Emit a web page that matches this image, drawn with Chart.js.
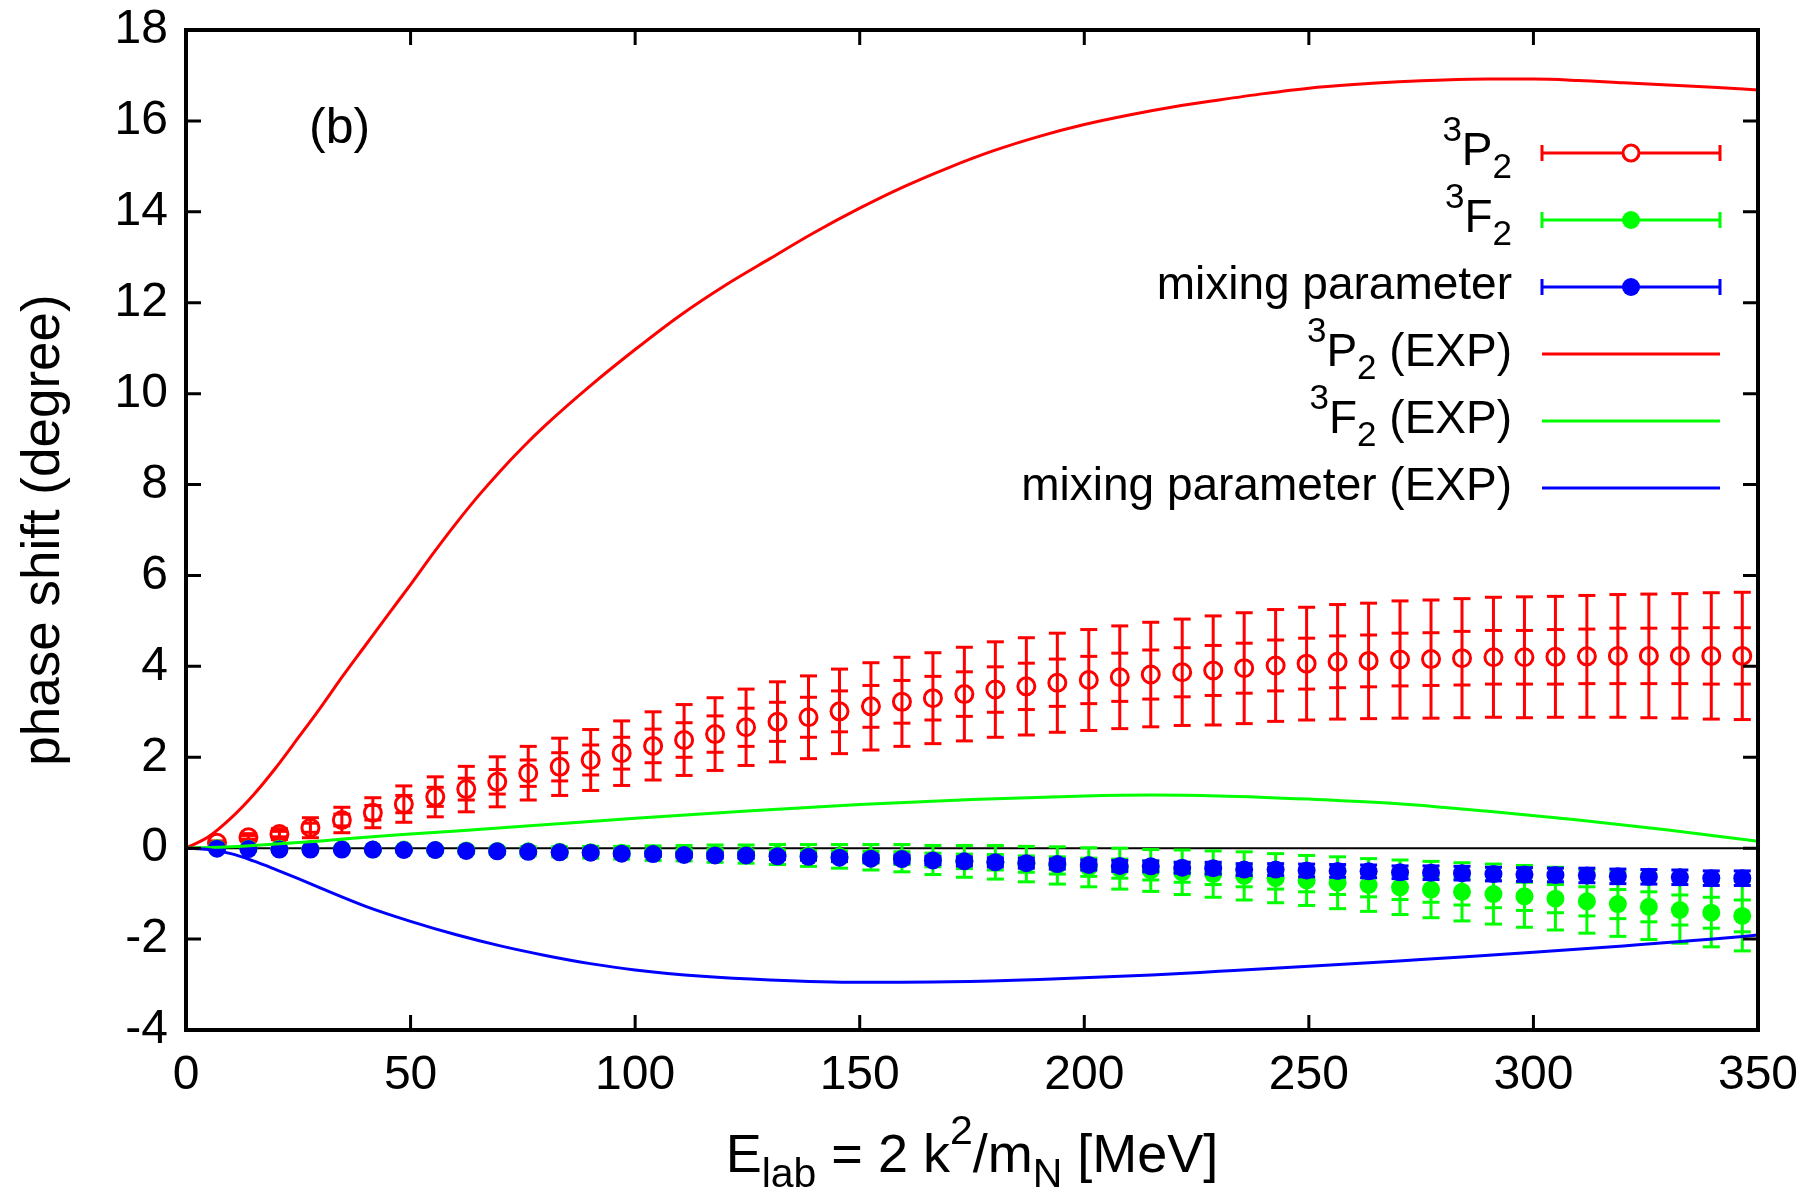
<!DOCTYPE html>
<html>
<head>
<meta charset="utf-8">
<title>phase shift (b)</title>
<script src="https://cdn.jsdelivr.net/npm/chart.js@4.4.1/dist/chart.umd.min.js"></script>
<style>
  html, body { margin: 0; padding: 0; background: #fff; }
  #wrap { width: 1818px; height: 1189px; }
</style>
</head>
<body>
<div id="wrap"><canvas id="phaseChart" width="1818" height="1189"></canvas></div>
<script>
// lattice points, E_lab in MeV
const energy = [
  6.9, 13.9, 20.8, 27.7, 34.7, 41.6, 48.5, 55.5, 62.4, 69.3,
  76.2, 83.2, 90.1, 97.0, 104.0, 110.9, 117.8, 124.7, 131.7, 138.6,
  145.5, 152.5, 159.4, 166.3, 173.3, 180.2, 187.1, 194.0, 201.0, 207.9,
  214.8, 221.8, 228.7, 235.6, 242.6, 249.5, 256.4, 263.3, 270.3, 277.2,
  284.1, 291.1, 298.0, 304.9, 311.9, 318.8, 325.7, 332.6, 339.6, 346.5
];

// 3P2
const p2 = [
  0.12, 0.24, 0.31, 0.45, 0.62, 0.78, 0.97, 1.13, 1.30, 1.46,
  1.65, 1.79, 1.94, 2.09, 2.25, 2.38, 2.51, 2.66, 2.78, 2.88,
  3.01, 3.12, 3.22, 3.30, 3.39, 3.49, 3.56, 3.64, 3.70, 3.76,
  3.82, 3.87, 3.91, 3.96, 4.02, 4.06, 4.10, 4.12, 4.15, 4.16,
  4.18, 4.20, 4.20, 4.21, 4.22, 4.23, 4.23, 4.23, 4.23, 4.23
];
const p2Err = [
  0.04, 0.08, 0.12, 0.22, 0.28, 0.33, 0.40, 0.44, 0.50, 0.55,
  0.59, 0.63, 0.67, 0.71, 0.75, 0.78, 0.80, 0.84, 0.88, 0.91,
  0.93, 0.96, 0.98, 1.00, 1.03, 1.05, 1.07, 1.09, 1.11, 1.13,
  1.15, 1.17, 1.20, 1.22, 1.23, 1.24, 1.26, 1.27, 1.29, 1.30,
  1.31, 1.32, 1.33, 1.33, 1.34, 1.35, 1.36, 1.37, 1.39, 1.40
];
const p2ErrIn = [
  0.02, 0.04, 0.06, 0.10, 0.13, 0.16, 0.19, 0.21, 0.24, 0.27,
  0.29, 0.31, 0.33, 0.35, 0.37, 0.38, 0.40, 0.42, 0.43, 0.44,
  0.45, 0.46, 0.47, 0.48, 0.49, 0.50, 0.51, 0.52, 0.52, 0.53,
  0.54, 0.54, 0.55, 0.55, 0.56, 0.56, 0.57, 0.57, 0.58, 0.58,
  0.59, 0.59, 0.59, 0.60, 0.60, 0.61, 0.61, 0.61, 0.62, 0.62
];

// 3F2
const f2 = [
  0.00, -0.01, -0.01, -0.02, -0.02, -0.03, -0.03, -0.04, -0.05, -0.06,
  -0.07, -0.08, -0.09, -0.10, -0.11, -0.11, -0.12, -0.13, -0.14, -0.16,
  -0.18, -0.20, -0.22, -0.26, -0.29, -0.31, -0.35, -0.38, -0.42, -0.45,
  -0.49, -0.53, -0.57, -0.61, -0.66, -0.71, -0.76, -0.81, -0.86, -0.91,
  -0.96, -1.01, -1.06, -1.11, -1.17, -1.23, -1.29, -1.36, -1.42, -1.49
];
const f2Err = [
  0.00, 0.01, 0.01, 0.02, 0.03, 0.04, 0.05, 0.06, 0.07, 0.08,
  0.10, 0.11, 0.13, 0.14, 0.16, 0.17, 0.19, 0.20, 0.22, 0.24,
  0.26, 0.28, 0.30, 0.32, 0.35, 0.37, 0.39, 0.41, 0.43, 0.45,
  0.46, 0.49, 0.51, 0.53, 0.54, 0.55, 0.57, 0.58, 0.60, 0.62,
  0.64, 0.66, 0.68, 0.69, 0.70, 0.71, 0.72, 0.73, 0.75, 0.77
];
const f2ErrIn = [
  0.00, 0.00, 0.01, 0.01, 0.01, 0.02, 0.02, 0.03, 0.03, 0.04,
  0.05, 0.05, 0.06, 0.06, 0.07, 0.08, 0.09, 0.09, 0.10, 0.11,
  0.12, 0.13, 0.14, 0.15, 0.16, 0.17, 0.18, 0.19, 0.20, 0.21,
  0.21, 0.22, 0.23, 0.24, 0.24, 0.25, 0.26, 0.26, 0.27, 0.28,
  0.29, 0.30, 0.31, 0.31, 0.32, 0.32, 0.33, 0.33, 0.34, 0.35
];

// mixing parameter
const mix = [
  -0.01, -0.02, -0.03, -0.03, -0.03, -0.03, -0.04, -0.04, -0.06, -0.07,
  -0.08, -0.09, -0.10, -0.12, -0.13, -0.15, -0.16, -0.16, -0.18, -0.19,
  -0.21, -0.23, -0.24, -0.27, -0.29, -0.31, -0.33, -0.35, -0.37, -0.39,
  -0.40, -0.43, -0.44, -0.47, -0.47, -0.49, -0.50, -0.51, -0.53, -0.54,
  -0.55, -0.57, -0.58, -0.59, -0.60, -0.62, -0.63, -0.64, -0.66, -0.66
];
const mixErr = [
  0.01, 0.01, 0.01, 0.01, 0.01, 0.01, 0.01, 0.01, 0.02, 0.02,
  0.03, 0.03, 0.04, 0.04, 0.05, 0.05, 0.06, 0.06, 0.07, 0.07,
  0.08, 0.08, 0.09, 0.09, 0.10, 0.10, 0.11, 0.11, 0.11, 0.12,
  0.12, 0.12, 0.13, 0.13, 0.13, 0.14, 0.14, 0.14, 0.14, 0.15,
  0.15, 0.15, 0.15, 0.15, 0.16, 0.16, 0.16, 0.16, 0.16, 0.16
];

// experimental (PWA) curves
const p2ExpE = [0, 5, 10, 15, 20, 25, 30, 35, 40, 45, 50, 55, 60, 65, 70, 75, 80, 90, 100, 110,
  120, 130, 140, 150, 160, 170, 180, 190, 200, 210, 220, 230, 240, 250, 260, 270, 280, 290,
  300, 310, 320, 330, 340, 350];
const p2Exp = [0, 0.25, 0.66, 1.17, 1.77, 2.43, 3.1, 3.8, 4.47, 5.14, 5.8, 6.48, 7.13, 7.74, 8.3, 8.82, 9.3, 10.17, 10.97, 11.72,
  12.38, 12.97, 13.55, 14.08, 14.56, 14.98, 15.35, 15.66, 15.92, 16.13, 16.31, 16.46, 16.6, 16.72, 16.8, 16.86, 16.9, 16.92,
  16.92, 16.89, 16.84, 16.79, 16.74, 16.68];

const f2ExpE = [0, 10, 20, 30, 40, 50, 75, 100, 125, 150, 175, 200, 215, 230, 250, 270, 290, 310, 330, 350];
const f2Exp = [0, 0.03, 0.09, 0.16, 0.24, 0.31, 0.48, 0.66, 0.82, 0.96, 1.07, 1.15, 1.17, 1.15, 1.08, 0.98, 0.81, 0.62, 0.4, 0.15];

const mixExpE = [0, 5, 10, 15, 20, 25, 30, 40, 50, 60, 70, 80, 90, 100, 115, 130, 150, 170, 190, 215,
  230, 250, 270, 285, 300, 320, 340, 350];
const mixExp = [0, -0.03, -0.12, -0.28, -0.47, -0.67, -0.88, -1.28, -1.61, -1.9, -2.15, -2.36, -2.54, -2.68, -2.82, -2.9, -2.95, -2.94, -2.89, -2.79,
  -2.71, -2.6, -2.48, -2.39, -2.29, -2.15, -2.0, -1.91];

const xTicks = [0, 50, 100, 150, 200, 250, 300, 350];
const yTicks = [-4, -2, 0, 2, 4, 6, 8, 10, 12, 14, 16, 18];

const RED = '#ff0000', GREEN = '#00ff00', BLUE = '#0000ff';
const FONT = "'Liberation Sans', Arial, Helvetica, sans-serif";

// legend rows: text pieces ('n' normal, 'sup', 'sub')
const legendRows = [
  { parts: [['3', 'sup'], ['P', 'n'], ['2', 'sub']], color: RED, bar: true, open: true },
  { parts: [['3', 'sup'], ['F', 'n'], ['2', 'sub']], color: GREEN, bar: true },
  { parts: [['mixing parameter', 'n']], color: BLUE, bar: true },
  { parts: [['3', 'sup'], ['P', 'n'], ['2', 'sub'], [' (EXP)', 'n']], color: RED },
  { parts: [['3', 'sup'], ['F', 'n'], ['2', 'sub'], [' (EXP)', 'n']], color: GREEN },
  { parts: [['mixing parameter (EXP)', 'n']], color: BLUE }
];

function toPoints(xs, ys) {
  return xs.map((x, i) => ({ x: x, y: ys[i] }));
}

function drawRich(ctx, parts, x, baseline, size, align) {
  const small = Math.round(size * 0.76);
  let total = 0;
  parts.forEach(p => {
    ctx.font = (p[1] === 'n' ? size : small) + 'px ' + FONT;
    total += ctx.measureText(p[0]).width;
  });
  let cx = align === 'right' ? x - total : (align === 'center' ? x - total / 2 : x);
  ctx.textAlign = 'left';
  ctx.textBaseline = 'alphabetic';
  parts.forEach(p => {
    let dy = 0;
    if (p[1] === 'sup') dy = -size * 0.52;
    if (p[1] === 'sub') dy = size * 0.28;
    ctx.font = (p[1] === 'n' ? size : small) + 'px ' + FONT;
    ctx.fillText(p[0], cx, baseline + dy);
    cx += ctx.measureText(p[0]).width;
  });
}

function errorBar(ctx, px, yTop, yBot, half, caps) {
  ctx.beginPath();
  ctx.moveTo(px, yTop);
  ctx.lineTo(px, yBot);
  ctx.stroke();
  caps.forEach(cy => {
    ctx.beginPath();
    ctx.moveTo(px - half, cy);
    ctx.lineTo(px + half, cy);
    ctx.stroke();
  });
}

const errorBarPlugin = {
  id: 'errorBars',
  beforeDatasetDraw(chart, args) {
    const ds = chart.data.datasets[args.index];
    if (!ds.errOuter) return;
    const { ctx, chartArea } = chart;
    const x = chart.scales.x, y = chart.scales.y;
    ctx.save();
    ctx.beginPath();
    ctx.rect(chartArea.left, chartArea.top, chartArea.width, chartArea.height);
    ctx.clip();
    ctx.strokeStyle = ds.borderColor;
    ctx.lineWidth = 3;
    ds.data.forEach((p, i) => {
      const px = x.getPixelForValue(p.x);
      const top = y.getPixelForValue(p.y + ds.errOuter[i]);
      const bot = y.getPixelForValue(p.y - ds.errOuter[i]);
      const caps = [top, bot];
      if (ds.errInner) {
        caps.push(y.getPixelForValue(p.y + ds.errInner[i]));
        caps.push(y.getPixelForValue(p.y - ds.errInner[i]));
      }
      errorBar(ctx, px, top, bot, 8.5, caps);
    });
    ctx.restore();
  }
};

const framePlugin = {
  id: 'frame',
  beforeDatasetsDraw(chart) {
    const { ctx, chartArea } = chart;
    const y0 = chart.scales.y.getPixelForValue(0);
    ctx.save();
    ctx.strokeStyle = '#000';
    ctx.lineWidth = 2;
    ctx.beginPath();
    ctx.moveTo(chartArea.left, y0);
    ctx.lineTo(chartArea.right, y0);
    ctx.stroke();
    ctx.restore();
  },
  afterDatasetsDraw(chart) {
    const { ctx, chartArea: a } = chart;
    const x = chart.scales.x, y = chart.scales.y;
    ctx.save();
    ctx.strokeStyle = '#000';
    ctx.lineWidth = 3;
    xTicks.forEach(v => {
      const px = x.getPixelForValue(v);
      ctx.beginPath();
      ctx.moveTo(px, a.bottom); ctx.lineTo(px, a.bottom - 15);
      ctx.moveTo(px, a.top); ctx.lineTo(px, a.top + 15);
      ctx.stroke();
    });
    yTicks.forEach(v => {
      const py = y.getPixelForValue(v);
      ctx.beginPath();
      ctx.moveTo(a.left, py); ctx.lineTo(a.left + 15, py);
      ctx.moveTo(a.right, py); ctx.lineTo(a.right - 15, py);
      ctx.stroke();
    });
    ctx.lineWidth = 4;
    ctx.strokeRect(a.left, a.top, a.right - a.left, a.bottom - a.top);
    ctx.restore();
  },
  afterDraw(chart) {
    const { ctx, chartArea: a } = chart;
    ctx.save();
    ctx.fillStyle = '#000';

    // panel tag
    ctx.font = '50px ' + FONT;
    ctx.textAlign = 'left';
    ctx.textBaseline = 'alphabetic';
    ctx.fillText('(b)', 309, 143);

    // x axis title
    drawRich(ctx, [['E', 'n'], ['lab', 'sub'], [' = 2 k', 'n'], ['2', 'sup'], ['/m', 'n'], ['N', 'sub'], [' [MeV]', 'n']],
      (a.left + a.right) / 2, 1172, 54, 'center');

    // key
    const textRight = 1512, x1 = 1542, x2 = 1720, xm = 1631;
    legendRows.forEach((row, i) => {
      const ly = 153 + i * 67;
      ctx.fillStyle = '#000';
      drawRich(ctx, row.parts, textRight, ly + 12, 46, 'right');
      ctx.strokeStyle = row.color;
      ctx.lineWidth = 3;
      ctx.beginPath();
      ctx.moveTo(x1, ly); ctx.lineTo(x2, ly);
      ctx.stroke();
      if (row.bar) {
        ctx.beginPath();
        ctx.moveTo(x1, ly - 8); ctx.lineTo(x1, ly + 8);
        ctx.moveTo(x2, ly - 8); ctx.lineTo(x2, ly + 8);
        ctx.stroke();
        ctx.beginPath();
        if (row.open) {
          ctx.fillStyle = '#fff';
          ctx.arc(xm, ly, 8, 0, Math.PI * 2);
          ctx.fill();
          ctx.stroke();
        } else {
          ctx.fillStyle = row.color;
          ctx.arc(xm, ly, 9, 0, Math.PI * 2);
          ctx.fill();
        }
      }
    });
    ctx.restore();
  }
};

const ctx = document.getElementById('phaseChart').getContext('2d');

new Chart(ctx, {
  type: 'scatter',
  data: {
    datasets: [
      {
        label: 'mixing parameter (EXP)', data: toPoints(mixExpE, mixExp), showLine: true,
        borderColor: BLUE, borderWidth: 3, pointRadius: 0, cubicInterpolationMode: 'monotone'
      },
      {
        label: '3F2 (EXP)', data: toPoints(f2ExpE, f2Exp), showLine: true,
        borderColor: GREEN, borderWidth: 3, pointRadius: 0, cubicInterpolationMode: 'monotone'
      },
      {
        label: '3P2 (EXP)', data: toPoints(p2ExpE, p2Exp), showLine: true,
        borderColor: RED, borderWidth: 3, pointRadius: 0, cubicInterpolationMode: 'monotone'
      },
      {
        label: 'mixing parameter', data: toPoints(energy, mix), errOuter: mixErr,
        borderColor: BLUE, backgroundColor: BLUE, pointRadius: 9, borderWidth: 0
      },
      {
        label: '3F2', data: toPoints(energy, f2), errOuter: f2Err, errInner: f2ErrIn,
        borderColor: GREEN, backgroundColor: GREEN, pointRadius: 9, borderWidth: 0
      },
      {
        label: '3P2', data: toPoints(energy, p2), errOuter: p2Err, errInner: p2ErrIn,
        borderColor: RED, backgroundColor: 'rgba(0,0,0,0)', pointRadius: 8.5, pointBorderWidth: 3, borderWidth: 3
      }
    ]
  },
  options: {
    responsive: false,
    devicePixelRatio: 1,
    animation: false,
    events: [],
    layout: { padding: { top: 30, right: 60, left: 0, bottom: 0 } },
    plugins: { legend: { display: false }, tooltip: { enabled: false } },
    scales: {
      x: {
        type: 'linear', min: 0, max: 350,
        grid: { display: false, drawTicks: false },
        border: { display: false },
        afterFit: s => { s.height = 159; s.paddingLeft = 0; s.paddingRight = 0; },
        afterBuildTicks: s => { s.ticks = xTicks.map(v => ({ value: v })); },
        ticks: { color: '#000', font: { family: FONT, size: 48 }, padding: 17, maxRotation: 0, autoSkip: false }
      },
      y: {
        type: 'linear', min: -4, max: 18,
        grid: { display: false, drawTicks: false },
        border: { display: false },
        afterFit: s => { s.width = 186; s.paddingTop = 0; s.paddingBottom = 0; },
        afterBuildTicks: s => { s.ticks = yTicks.map(v => ({ value: v })); },
        ticks: { color: '#000', font: { family: FONT, size: 48 }, padding: 18, autoSkip: false },
        title: {
          display: true, text: 'phase shift (degree)', color: '#000',
          font: { family: FONT, size: 53 }, padding: { top: 13, bottom: 0 }
        }
      }
    }
  },
  plugins: [errorBarPlugin, framePlugin]
});
</script>
</body>
</html>
